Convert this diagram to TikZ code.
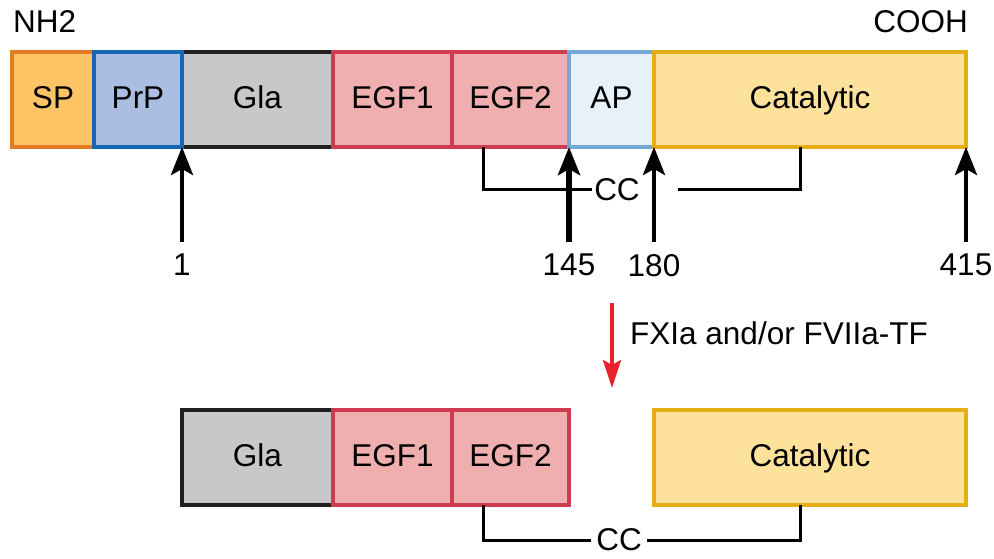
\documentclass[tikz,border=0pt]{standalone}
\usepackage{fontspec}
\setmainfont{Liberation Sans}
\usetikzlibrary{positioning,arrows.meta}

\definecolor{spfill}{HTML}{FDC465}
\definecolor{spline}{HTML}{E27B24}
\definecolor{prpfill}{HTML}{AABEE2}
\definecolor{prpline}{HTML}{1667B3}
\definecolor{glafill}{HTML}{C7C8CA}
\definecolor{glaline}{HTML}{231F20}
\definecolor{egffill}{HTML}{F0AFAF}
\definecolor{egfline}{HTML}{D13B52}
\definecolor{apfill}{HTML}{E6F1FA}
\definecolor{apline}{HTML}{72A9D6}
\definecolor{catfill}{HTML}{FEE19B}
\definecolor{catline}{HTML}{E4AE14}
\definecolor{cutred}{HTML}{E8212B}

\tikzset{
  dombox/.style={draw, line width=3.2pt, minimum height=95pt, inner sep=0pt, outer sep=0pt, anchor=west,
    text height=23pt, text depth=5pt},
  num/.style={inner xsep=1pt, inner ysep=12pt},
  site/.style={line width=4.4pt, -{Stealth[length=28pt,width=22pt,inset=6pt]}},
  link/.style={line width=3pt},
}

\begin{document}
\begin{tikzpicture}[x=1pt, y=-1pt, font=\fontsize{31.5}{38}\selectfont]
\useasboundingbox (0,0) rectangle (994,559);

% precursor
\node[dombox, fill=spfill, draw=spline, minimum width=82pt] (sp) at (12,99.5) {SP};
\node[dombox, fill=glafill, draw=glaline, minimum width=151pt] (gla) at (182,99.5) {Gla};
\node[dombox, fill=prpfill, draw=prpline, minimum width=88pt, right=0pt of sp] (prp) {PrP};
\node[dombox, fill=egffill, draw=egfline, minimum width=119pt, right=0pt of gla] (egf1) {EGF1};
\node[dombox, fill=egffill, draw=egfline, minimum width=117pt, right=0pt of egf1] (egf2) {EGF2};
\node[dombox, fill=apfill, draw=apline, minimum width=85pt, right=0pt of egf2] (ap) {AP};
\node[dombox, fill=catfill, draw=catline, minimum width=312pt, right=0pt of ap] (cat) {Catalytic};

\node[anchor=west, inner sep=0pt] (nh2) at (13,22) {NH2};
\node[anchor=east, inner sep=0pt] (cooh) at (968,22) {COOH};

\node[inner sep=2pt] (cc) at (617,190) {CC};
\draw[link] ([xshift=31pt]egf2.south west) |- (cc.west);
\draw[link] ([xshift=-10pt]cat.south) |- ([xshift=36pt]cc.east);

\node[num, below=95pt of gla.south west] (n1) {1};
\node[num, below=95pt of ap.south west] (n145) {145};
\node[num, below=95pt of cat.south west] (n180) {180};
\node[num, below=95pt of cat.south east] (n415) {415};
\draw[site] (n1) -- (gla.south west);
\draw[site, line width=6.4pt] (n145) -- (ap.south west);
\draw[site] (n180) -- (cat.south west);
\draw[site] (n415) -- (cat.south east);

% cleavage
\coordinate (cut) at (612,303);
\coordinate (gap) at (612,388);
\draw[cutred, line width=3.8pt, -{Stealth[length=28pt,width=18pt,inset=5pt]}] (cut) -- (gap);
\node[anchor=west, inner sep=0pt] (enz) at (630,333) {FXIa and/or FVIIa-TF};

% activated factor
\node[dombox, fill=glafill, draw=glaline, minimum width=151pt] (gla2) at (182,457.5) {Gla};
\node[dombox, fill=egffill, draw=egfline, minimum width=119pt, right=0pt of gla2] (egf1b) {EGF1};
\node[dombox, fill=egffill, draw=egfline, minimum width=117pt, right=0pt of egf1b] (egf2b) {EGF2};
\node[dombox, fill=catfill, draw=catline, minimum width=312pt] (cat2) at (654,457.5) {Catalytic};

\node[inner sep=5pt] (cc2) at (619,540) {CC};
\draw[link] ([xshift=31pt]egf2b.south west) |- (cc2.west);
\draw[link] ([xshift=-10pt]cat2.south) |- (cc2.east);
\end{tikzpicture}
\end{document}
